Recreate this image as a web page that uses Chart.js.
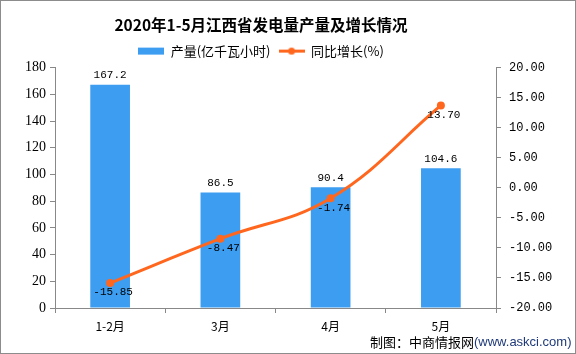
<!DOCTYPE html>
<html>
<head>
<meta charset="UTF-8">
<title>2020年1-5月江西省发电量产量及增长情况</title>
<script src="https://cdn.jsdelivr.net/npm/chart.js@4.4.1/dist/chart.umd.min.js"></script>
<style>
  body { margin: 0; background: #fff; }
  .wrap { position: relative; width: 576px; height: 354px; }
</style>
</head>
<body>
<div class="wrap">
  <canvas id="chart" width="576" height="354"></canvas>
</div>

<script>
const months = ['1-2月', '3月', '4月', '5月']
const output = [167.2, 86.5, 90.4, 104.6]      // 产量(亿千瓦小时)
const growth = [-15.85, -8.47, -1.74, 13.70]   // 同比增长(%)
const leftTicks = [0, 180, 20]
const rightTicks = [-20, 20, 5]

const barColor = '#3d9df0'
const lineColor = '#ff671f'

// small canvases used as legend symbols
function legendMark(kind) {
  const c = document.createElement('canvas')
  c.width = 26; c.height = 9
  const g = c.getContext('2d')
  if (kind === 'bar') {
    g.fillStyle = barColor
    g.fillRect(0, 1, 26, 7)
  } else {
    g.strokeStyle = lineColor
    g.lineWidth = 3
    g.beginPath(); g.moveTo(0, 4.5); g.lineTo(26, 4.5); g.stroke()
    g.fillStyle = lineColor
    g.beginPath(); g.arc(13, 4.5, 3.5, 0, Math.PI * 2); g.fill()
  }
  return c
}
const marks = [legendMark('bar'), legendMark('line')]

// title and legend sit a bit left of the canvas centre in the original
const shiftHeader = {
  id: 'shiftHeader',
  beforeDraw(chart) {
    const t = chart.titleBlock, l = chart.legend
    if (t && !t._moved) { t.left -= 27; t.right -= 27; t._moved = true }
    if (l && !l._moved) { l.left -= 27; l.right -= 27; l._moved = true }
  }
}

const valueLabels = {
  id: 'valueLabels',
  afterDatasetsDraw(chart) {
    const ctx = chart.ctx
    ctx.save()
    ctx.fillStyle = '#000'
    ctx.textAlign = 'center'
    ctx.font = '11px "Liberation Mono", monospace'
    chart.getDatasetMeta(0).data.forEach((el, i) => {
      ctx.textBaseline = 'bottom'
      ctx.fillText(output[i].toFixed(1), el.x, el.y - 4)
    })
    chart.getDatasetMeta(1).data.forEach((el, i) => {
      ctx.textBaseline = 'top'
      ctx.fillText(growth[i].toFixed(2), el.x + 3, el.y + 4)
    })
    ctx.restore()
  },
  afterDraw(chart) {
    const ctx = chart.ctx
    ctx.save()
    ctx.strokeStyle = '#8c8c8c'
    ctx.lineWidth = 1
    ctx.strokeRect(0.5, 0.5, chart.width - 1, chart.height - 1)
    ctx.textBaseline = 'middle'
    ctx.textAlign = 'left'
    ctx.font = '13px "Noto Sans CJK SC"'
    ctx.fillStyle = '#000'
    const a = '制图：中商情报网'
    ctx.fillText(a, 370, 342)
    const w = ctx.measureText(a).width
    ctx.font = '13px "Liberation Sans"'
    ctx.fillStyle = '#1f3a7a'
    ctx.fillText('(www.askci.com)', 370 + w, 342)
    ctx.restore()
  }
}

const ctx = document.getElementById('chart').getContext('2d')
const chart = new Chart(ctx, {
  data: {
    labels: months,
    datasets: [
      {
        type: 'bar',
        label: '产量(亿千瓦小时)',
        data: output,
        backgroundColor: barColor,
        yAxisID: 'y',
        categoryPercentage: 1,
        barPercentage: 0.36,
        order: 2
      },
      {
        type: 'line',
        label: '同比增长(%)',
        data: growth,
        borderColor: lineColor,
        backgroundColor: lineColor,
        borderWidth: 3,
        pointRadius: 4,
        pointBorderWidth: 0,
        tension: 0.4,
        yAxisID: 'y1',
        order: 1
      }
    ]
  },
  options: {
    responsive: false,
    animation: false,
    layout: { padding: { top: 0, bottom: 18, left: 0, right: 0 } },
    plugins: {
      title: {
        display: true,
        text: '2020年1-5月江西省发电量产量及增长情况',
        color: '#000',
        font: { family: '"Noto Sans CJK SC"', size: 15.5, weight: 'bold' },
        padding: { top: 16, bottom: 2 }
      },
      legend: {
        display: true,
        labels: {
          color: '#000',
          font: { family: '"Noto Sans CJK SC"', size: 13 },
          usePointStyle: true,
          pointStyleWidth: 26,
          boxHeight: 9,
          padding: 8,
          generateLabels: (c) => c.data.datasets.map((ds, i) => ({
            text: ds.label,
            pointStyle: marks[i],
            fillStyle: ds.backgroundColor,
            strokeStyle: ds.backgroundColor,
            lineWidth: 0,
            datasetIndex: i,
            hidden: false
          }))
        }
      },
      tooltip: { enabled: false }
    },
    scales: {
      x: {
        offset: true,
        grid: { offset: true, drawOnChartArea: false, drawTicks: true, tickLength: 5, color: '#888' },
        border: { color: '#888' },
        ticks: { color: '#000', font: { family: '"Noto Sans CJK SC"', size: 12 }, padding: 6 },
        afterFit: (s) => { s.height = 28 }
      },
      y: {
        position: 'left',
        min: leftTicks[0], max: leftTicks[1],
        ticks: { stepSize: leftTicks[2], color: '#000', font: { family: '"Liberation Serif"', size: 14 }, padding: 4 },
        grid: { drawOnChartArea: false, drawTicks: true, tickLength: 5, color: '#888' },
        border: { color: '#888' },
        afterFit: (s) => { s.width = 55 }
      },
      y1: {
        position: 'right',
        min: rightTicks[0], max: rightTicks[1],
        ticks: {
          stepSize: rightTicks[2], color: '#000',
          font: { family: '"Liberation Mono"', size: 12 }, padding: 8,
          callback: (v) => v.toFixed(2)
        },
        grid: { drawOnChartArea: false, drawTicks: true, tickLength: 5, color: '#888' },
        border: { color: '#888' },
        afterFit: (s) => { s.width = 80 }
      }
    }
  },
  plugins: [shiftHeader, valueLabels]
})
</script>
</body>
</html>
